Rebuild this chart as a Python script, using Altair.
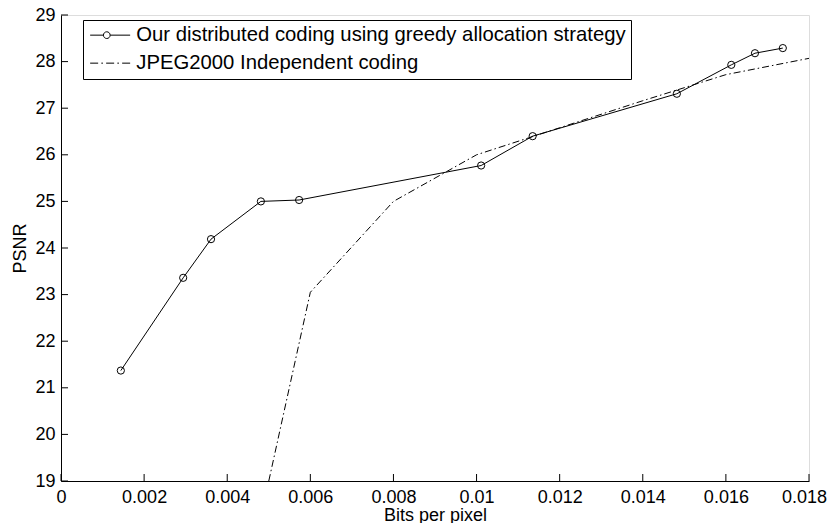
import altair as alt
import pandas as pd

# ---- data ----
ours_bpp = [0.00144, 0.00294, 0.00361, 0.00481, 0.00573, 0.01011, 0.01135, 0.01482, 0.01613, 0.01670, 0.01737]
ours_psnr = [21.37, 23.36, 24.19, 25.00, 25.03, 25.77, 26.40, 27.31, 27.93, 28.18, 28.29]
jpeg_bpp = [0.005, 0.006, 0.008, 0.010, 0.012, 0.014, 0.016, 0.018]
jpeg_psnr = [19.0, 23.05, 25.0, 26.0, 26.58, 27.16, 27.72, 28.07]
x_ticks = [0, 0.002, 0.004, 0.006, 0.008, 0.010, 0.012, 0.014, 0.016, 0.018]
y_ticks = [19, 20, 21, 22, 23, 24, 25, 26, 27, 28, 29]
series_names = ["Our distributed coding using greedy allocation strategy",
                "JPEG2000 Independent coding"]

FONT = "Liberation Sans"
W, H = 748, 466

ours = pd.DataFrame({"bpp": ours_bpp, "psnr": ours_psnr, "series": series_names[0]})
jpeg = pd.DataFrame({"bpp": jpeg_bpp, "psnr": jpeg_psnr, "series": series_names[1]})
both = pd.concat([ours, jpeg], ignore_index=True)

xscale = alt.Scale(domain=[0, 0.018], nice=False, zero=False)
yscale = alt.Scale(domain=[19, 29], nice=False, zero=False)

xaxis = alt.Axis(values=x_ticks, format="~g", grid=False, ticks=False, tickSize=0,
                 labelPadding=7, labelFont=FONT, labelFontSize=18, labelColor="black",
                 labelOffset={"condition": {"test": "datum.value >= 0.0179", "value": -5},
                              "value": 0},
                 domainColor="black", labelFlush=False, labelOverlap=False,
                 title="Bits per pixel", titleFont=FONT, titleFontSize=18,
                 titleFontWeight="normal", titleColor="black",
                 titleBaseline="alphabetic", titleY=39)
yaxis = alt.Axis(values=y_ticks, grid=False, ticks=False, tickSize=0,
                 labelPadding=6, labelFont=FONT, labelFontSize=18, labelColor="black",
                 domainColor="black", labelFlush=False, labelOverlap=False,
                 title="PSNR", titleFont=FONT, titleFontSize=18,
                 titleFontWeight="normal", titleColor="black",
                 titleBaseline="alphabetic", titleX=-36)

X = alt.X("bpp:Q", scale=xscale, axis=xaxis)
Y = alt.Y("psnr:Q", scale=yscale, axis=yaxis)

line_ours = alt.Chart(ours).mark_line(color="black", strokeWidth=1, clip=True).encode(
    x=X, y=Y, order="bpp:Q")
line_jpeg = alt.Chart(jpeg).mark_line(color="black", strokeWidth=1, strokeDash=[7, 3, 1.5, 3],
                                      clip=True).encode(
    x=alt.X("bpp:Q", scale=xscale), y=alt.Y("psnr:Q", scale=yscale), order="bpp:Q")
pts = alt.Chart(ours).mark_point(shape="circle", filled=False, size=52, color="black",
                                 strokeWidth=1, opacity=1).encode(
    x=alt.X("bpp:Q", scale=xscale), y=alt.Y("psnr:Q", scale=yscale))

# legend symbols: line with circle, and dash-dot line (paths in symbol units)
sym_ours = "M-1,0H0.66M1.5,0H4M1.5,0A0.42,0.42 0 1,1 0.66,0A0.42,0.42 0 1,1 1.5,0"
sym_jpeg = "M-1,0H0M0.4,0H0.6M1,0H2M2.4,0H2.6M3,0H4"

legend_layer = alt.Chart(both).mark_point(opacity=0, filled=False, color="black").encode(
    x=alt.X("bpp:Q", scale=xscale), y=alt.Y("psnr:Q", scale=yscale),
    shape=alt.Shape("series:N",
                    scale=alt.Scale(domain=series_names, range=[sym_ours, sym_jpeg]),
                    legend=alt.Legend(title=None, orient="none", legendX=22, legendY=5,
                                      direction="vertical",
                                      strokeColor="black", fillColor="white", padding=5,
                                      symbolSize=256, symbolStrokeColor="black",
                                      symbolStrokeWidth=1, symbolOpacity=1,
                                      symbolFillColor="transparent",
                                      labelOffset=28, labelFont=FONT, labelFontSize=20.3,
                                      labelColor="black", labelLimit=800, rowPadding=7)))

# inward ticks
xt = pd.DataFrame({"bpp": x_ticks})
yt = pd.DataFrame({"psnr": y_ticks})
xtick_marks = alt.Chart(xt).mark_rule(color="black", strokeWidth=1).encode(
    x=alt.X("bpp:Q", scale=xscale), y=alt.value(H), y2=alt.value(H - 7))
ytick_marks = alt.Chart(yt).mark_rule(color="black", strokeWidth=1).encode(
    y=alt.Y("psnr:Q", scale=yscale), x=alt.value(0), x2=alt.value(7))

chart = alt.layer(line_ours, line_jpeg, pts, legend_layer, xtick_marks, ytick_marks).properties(
    width=W, height=H,
    autosize=alt.AutoSizeParams(type="none"),
    padding={"left": 53, "top": 7, "right": 18, "bottom": 42},
).configure_view(stroke=None).configure(background="white")

chart.save("out.html", embed_options={"renderer": "svg", "actions": False})
